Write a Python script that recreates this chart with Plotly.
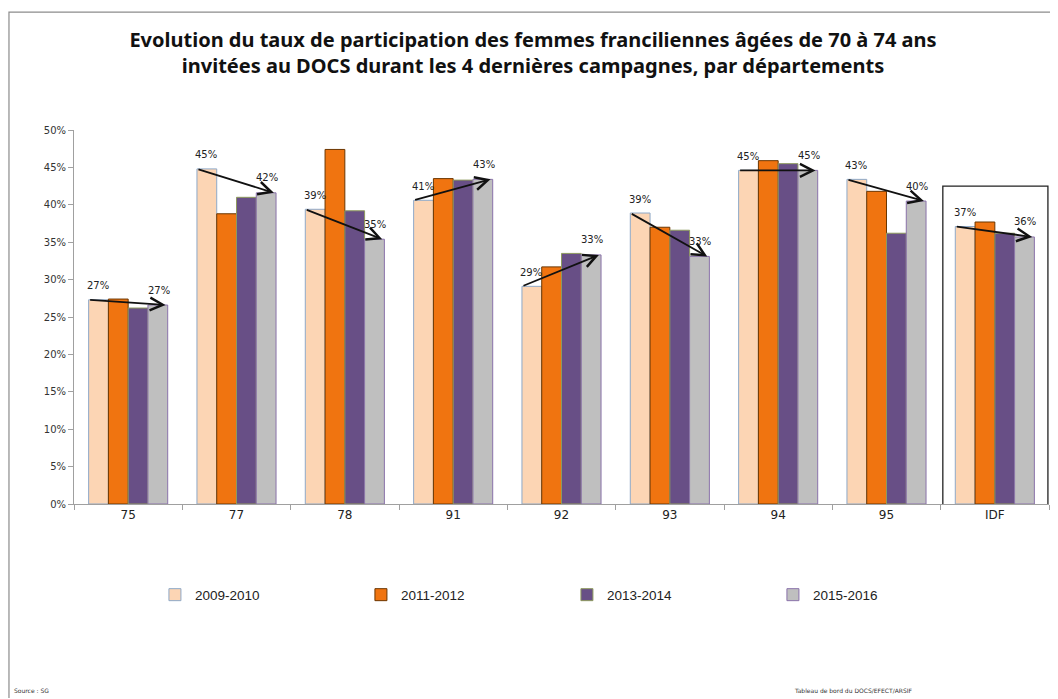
"""Participation DOCS 70-74 ans, par département, 4 campagnes."""

import plotly.graph_objects as go

DEPARTEMENTS = ["75", "77", "78", "91", "92", "93", "94", "95", "IDF"]
CAMPAGNES = ["2009-2010", "2011-2012", "2013-2014", "2015-2016"]

TAUX_2009_2010 = [0.273, 0.448, 0.394, 0.406, 0.291, 0.389, 0.446, 0.434, 0.371]
TAUX_2011_2012 = [0.274, 0.388, 0.474, 0.435, 0.317, 0.370, 0.459, 0.418, 0.377]
TAUX_2013_2014 = [0.262, 0.410, 0.392, 0.433, 0.335, 0.366, 0.455, 0.362, 0.362]
TAUX_2015_2016 = [0.266, 0.416, 0.354, 0.434, 0.333, 0.331, 0.446, 0.405, 0.357]

SERIES = [TAUX_2009_2010, TAUX_2011_2012, TAUX_2013_2014, TAUX_2015_2016]
FILLS = ["#FCD5B4", "#F07410", "#684F86", "#BFBFBF"]
OUTLINES = ["#8EA9C8", "#6B3600", "#8E9A5E", "#8A72AA"]

FONT = "DejaVu Sans, sans-serif"
BARGAP = 0.27
HALF = (1 - BARGAP) / 2

fig = go.Figure()
for name, values, fill, outline in zip(CAMPAGNES, SERIES, FILLS, OUTLINES):
    fig.add_trace(
        go.Bar(
            x=DEPARTEMENTS,
            y=values,
            name=name,
            marker=dict(color=fill, line=dict(color=outline, width=1)),
            hovertemplate="%{x}: %{y:.1%}<extra>" + name + "</extra>",
        )
    )

# arrows first campaign -> last campaign, with rounded labels
for i, (start, end) in enumerate(zip(TAUX_2009_2010, TAUX_2015_2016)):
    fig.add_annotation(
        x=i + HALF - 0.02, y=end, ax=i - HALF, ay=start,
        xref="x", yref="y", axref="x", ayref="y",
        showarrow=True, arrowhead=5, arrowsize=1.4, arrowwidth=1.8, arrowcolor="#111111",
        text="",
    )
    fig.add_annotation(
        x=i - 0.28, y=start, yshift=14, xref="x", yref="y",
        text=f"{start:.0%}", showarrow=False, font=dict(size=10, color="#222222", family=FONT),
    )
    fig.add_annotation(
        x=i + 0.28, y=end, yshift=15, xref="x", yref="y",
        text=f"{end:.0%}", showarrow=False, font=dict(size=10, color="#222222", family=FONT),
    )

# frame around the IDF group
idf = len(DEPARTEMENTS) - 1
fig.add_shape(
    type="rect", xref="x", yref="y",
    x0=idf - 0.48, x1=idf + 0.49, y0=-0.002, y1=0.425,
    line=dict(color="#222222", width=1.3), fillcolor="rgba(0,0,0,0)",
)

# outer chart border
fig.add_shape(
    type="rect", xref="paper", yref="paper",
    x0=-0.0667, x1=1.05, y0=-0.6, y1=1.315,
    line=dict(color="#8C8C8C", width=1.2), fillcolor="rgba(0,0,0,0)",
)

fig.add_annotation(
    text="Source : SG", xref="paper", yref="paper", x=-0.0636, y=-0.498,
    xanchor="left", yanchor="middle", showarrow=False,
    font=dict(size=6, color="#333333", family=FONT),
)
fig.add_annotation(
    text="Tableau de bord du DOCS/EFECT/ARSIF", xref="paper", yref="paper", x=0.736, y=-0.498,
    xanchor="left", yanchor="middle", showarrow=False,
    font=dict(size=6, color="#333333", family=FONT),
)

fig.update_layout(
    title=dict(
        text="<b>Evolution du taux de participation des femmes franciliennes âgées de 70 à 74 ans<br>"
        "invitées au DOCS durant les 4 dernières campagnes, par départements</b>",
        x=0.5, xref="container", xanchor="center", y=0.943, yanchor="middle",
        font=dict(size=20, color="#111111", family="Noto Sans, sans-serif"),
    ),
    width=1050,
    height=690,
    margin=dict(l=66, r=9, t=122, b=194),
    paper_bgcolor="white",
    plot_bgcolor="white",
    barmode="group",
    bargap=BARGAP,
    bargroupgap=0,
    font=dict(family=FONT, size=11, color="#333333"),
    legend=dict(
        orientation="h", x=0.083, y=-0.243, xanchor="left", yanchor="middle",
        entrywidth=161, entrywidthmode="pixels",
        font=dict(size=13.5, color="#222222", family="Liberation Sans, sans-serif"),
        itemwidth=30,
    ),
    showlegend=True,
)
fig.update_xaxes(
    type="category",
    showline=True, linecolor="#A0A0A0", linewidth=1,
    ticks="outside", tickson="boundaries", ticklen=5, tickcolor="#A0A0A0",
    tickfont=dict(size=12, color="#222222"),
    showgrid=False,
)
fig.update_yaxes(
    range=[0, 0.5], dtick=0.05, tickformat=".0%",
    showline=True, linecolor="#A0A0A0", linewidth=1,
    ticks="outside", ticklen=5, tickcolor="#A0A0A0",
    tickfont=dict(size=10, color="#333333"),
    showgrid=False, zeroline=False,
)

fig.write_html("out.html")
